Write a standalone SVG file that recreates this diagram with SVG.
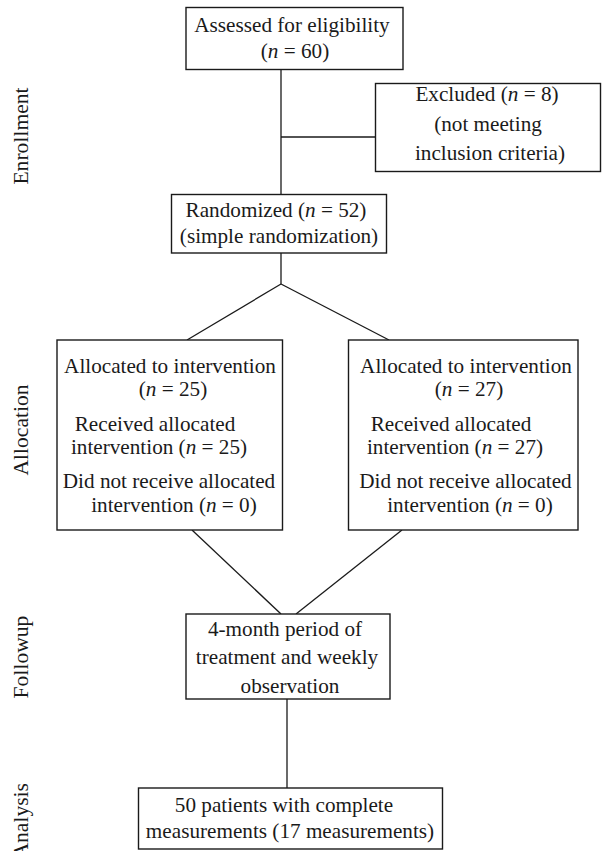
<svg xmlns="http://www.w3.org/2000/svg" width="602" height="851" viewBox="0 0 602 851">
<style>
  .box { fill: #ffffff; stroke: #1a1a1a; stroke-width: 1.4; }
  .ln { fill: none; stroke: #1a1a1a; stroke-width: 1.3; }
  text { font-family: "Liberation Serif", "Times New Roman", serif; font-size: 21.2px; fill: #1a1a1a; }
  .c { text-anchor: middle; }
  .side { text-anchor: middle; font-size: 21.6px; }
  .i { font-style: italic; }
</style>
<rect width="602" height="851" fill="#ffffff"/>
<g id="connectors">
  <line class="ln" x1="281" y1="69" x2="281" y2="194"/>
  <line class="ln" x1="281" y1="137" x2="375.5" y2="137"/>
  <line class="ln" x1="281" y1="253" x2="281" y2="284"/>
  <line class="ln" x1="281" y1="284" x2="187" y2="340"/>
  <line class="ln" x1="281" y1="284" x2="389" y2="340"/>
  <line class="ln" x1="192" y1="530" x2="281" y2="614"/>
  <line class="ln" x1="402" y1="530" x2="296" y2="614"/>
  <line class="ln" x1="287" y1="699" x2="287" y2="788"/>
</g>
<g id="labels">
  <text class="side" transform="translate(28,136) rotate(-90)">Enrollment</text>
  <text class="side" transform="translate(28,430) rotate(-90)">Allocation</text>
  <text class="side" transform="translate(28,657) rotate(-90)">Followup</text>
  <text class="side" transform="translate(28,783) rotate(-90)" style="text-anchor:end">Analysis</text>
</g>
<g id="assessed">
  <rect class="box" x="186" y="7.5" width="217" height="62"/>
  <text class="c" x="292" y="32">Assessed for eligibility</text>
  <text class="c" x="295" y="58">(<tspan class="i">n</tspan> = 60)</text>
</g>
<g id="excluded">
  <rect class="box" x="375.5" y="83.5" width="225" height="88"/>
  <text class="c" x="487" y="101">Excluded (<tspan class="i">n</tspan> = 8)</text>
  <text class="c" x="488" y="131">(not meeting</text>
  <text class="c" x="490" y="160">inclusion criteria)</text>
</g>
<g id="randomized">
  <rect class="box" x="171.5" y="194.5" width="215" height="58.5"/>
  <text class="c" x="276" y="216.5">Randomized (<tspan class="i">n</tspan> = 52)</text>
  <text class="c" x="279" y="243">(simple randomization)</text>
</g>
<g id="alloc-left">
  <rect class="box" x="57" y="340" width="225.5" height="190"/>
  <text class="c" x="170" y="373">Allocated to intervention</text>
  <text class="c" x="173" y="396">(<tspan class="i">n</tspan> = 25)</text>
  <text class="c" x="155" y="431">Received allocated</text>
  <text class="c" x="159" y="454">intervention (<tspan class="i">n</tspan> = 25)</text>
  <text class="c" x="169" y="488">Did not receive allocated</text>
  <text class="c" x="174" y="512">intervention (<tspan class="i">n</tspan> = 0)</text>
</g>
<g id="alloc-right">
  <rect class="box" x="348.5" y="340" width="229.5" height="190"/>
  <text class="c" x="466" y="373">Allocated to intervention</text>
  <text class="c" x="469" y="396">(<tspan class="i">n</tspan> = 27)</text>
  <text class="c" x="451" y="431">Received allocated</text>
  <text class="c" x="455" y="454">intervention (<tspan class="i">n</tspan> = 27)</text>
  <text class="c" x="465.5" y="488">Did not receive allocated</text>
  <text class="c" x="470" y="512">intervention (<tspan class="i">n</tspan> = 0)</text>
</g>
<g id="followup">
  <rect class="box" x="186" y="614" width="204" height="85"/>
  <text class="c" x="285" y="636">4-month period of</text>
  <text class="c" x="287" y="664">treatment and weekly</text>
  <text class="c" x="290" y="692.5">observation</text>
</g>
<g id="analysis">
  <rect class="box" x="138.5" y="788" width="304" height="61"/>
  <text class="c" x="284" y="811.5">50 patients with complete</text>
  <text class="c" x="290" y="838">measurements (17 measurements)</text>
</g>
</svg>
